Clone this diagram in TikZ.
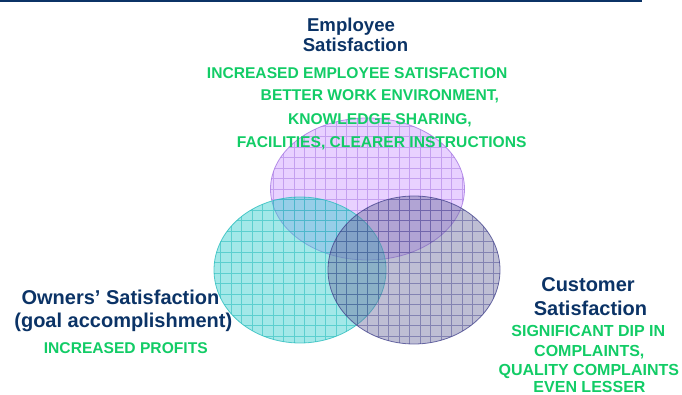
\documentclass[tikz,border=0pt]{standalone}
\usepackage{fontspec}
\setmainfont{Liberation Sans}
\definecolor{navy}{HTML}{0B3366}
\definecolor{grn}{HTML}{12CC66}
\definecolor{purfill}{HTML}{CC99FF}
\definecolor{purline}{HTML}{A070E0}
\definecolor{tealfill}{HTML}{33CCCC}
\definecolor{tealline}{HTML}{22BBBB}
\definecolor{darkfill}{HTML}{6E6EA0}
\definecolor{darkline}{HTML}{3C3C88}
\begin{document}
\begin{tikzpicture}[x=1pt,y=-1pt,
  title/.style={text=navy,font=\bfseries\fontsize{20}{22}\selectfont,anchor=base,inner sep=0pt},
  etitle/.style={text=navy,font=\bfseries\fontsize{18.6}{21}\selectfont,anchor=base,inner sep=0pt},
  note/.style={text=grn,font=\bfseries\fontsize{15.6}{18}\selectfont,anchor=base,inner sep=0pt},
  cnote/.style={text=grn,font=\bfseries\fontsize{16}{18}\selectfont,anchor=base,inner sep=0pt}]
\useasboundingbox (0,0) rectangle (682,395);
\coordinate (l0) at (0,1);
\coordinate (l1) at (642,1);
\draw[navy,line width=2pt] (l0) -- (l1);
% ellipses
\newcommand{\gridellipse}[8]{%
  \fill[#5,fill opacity=#7] (#1,#2) ellipse [x radius=#3, y radius=#4];
  \begin{scope}
    \clip (#1,#2) ellipse [x radius=#3, y radius=#4];
    \draw[#6,line width=0.6pt,opacity=#8,step=10.5pt] (#1-#3-1,#2-#4-1) grid (#1+#3+1,#2+#4+1);
  \end{scope}
  \draw[#6,line width=0.8pt,opacity=0.75] (#1,#2) ellipse [x radius=#3, y radius=#4];
}
\gridellipse{367.5}{189}{97}{71}{purfill}{purline}{0.45}{0.5}
\gridellipse{300}{270}{86}{73}{tealfill}{tealline}{0.45}{0.55}
\gridellipse{414}{270}{86}{74}{darkfill}{darkline}{0.45}{0.45}
% employee
\node[etitle] (e1) at (351,31.3) {Employee};
\node[etitle] (e2) at (355.5,51.3) {Satisfaction};
\node[note] (en1) at (357.2,79) {INCREASED EMPLOYEE SATISFACTION};
\node[note] (en2) at (379.9,101) {BETTER WORK ENVIRONMENT,};
\node[note] (en3) at (379.9,124.3) {KNOWLEDGE SHARING,};
\node[note] (en4) at (381.7,147.3) {FACILITIES, CLEARER INSTRUCTIONS};
% owners
\node[title] (o1) at (120.5,304.3) {Owners’ Satisfaction};
\node[title] (o2) at (123.3,327) {(goal accomplishment)};
\node[note] (on1) at (125.8,353.3) {INCREASED PROFITS};
% customer
\node[title] (c1) at (588,291) {Customer};
\node[title] (c2) at (590.5,315) {Satisfaction};
\node[cnote] (cn1) at (588.3,336) {SIGNIFICANT DIP IN};
\node[cnote] (cn2) at (589.3,356) {COMPLAINTS,};
\node[cnote] (cn3) at (588.8,375.5) {QUALITY COMPLAINTS};
\node[cnote] (cn4) at (589.5,392.5) {EVEN LESSER};
\end{tikzpicture}
\end{document}
